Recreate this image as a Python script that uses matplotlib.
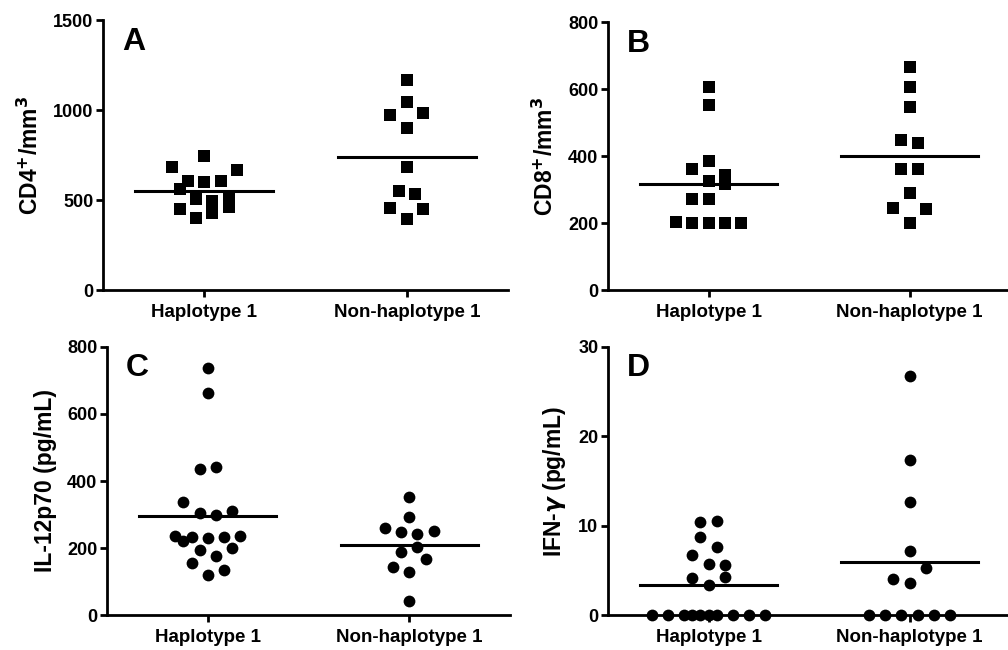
import numpy as np
import matplotlib
matplotlib.use("Agg")
import matplotlib.pyplot as plt

plt.rcParams['font.family'] = ['Liberation Sans', 'DejaVu Sans']
plt.rcParams['font.weight'] = 'bold'

groups = ["Haplotype 1", "Non-haplotype 1"]

# values, listed row by row, left to right
cd4_hap = [744, 681, 607, 600, 604, 669, 559, 504, 496, 504, 452, 398, 426, 459]
cd4_non = [1167, 1044, 970, 900, 981, 681, 548, 533, 456, 396, 452]
cd8_hap = [605, 553, 386, 360, 325, 344, 273, 273, 317, 203, 201, 199, 201, 201]
cd8_non = [665, 605, 547, 448, 440, 362, 362, 291, 245, 201, 243]
il12_hap = [738, 661, 437, 443, 337, 304, 300, 312, 236, 234, 230, 232, 236,
            220, 193, 177, 200, 157, 121, 135]
il12_non = [351, 294, 260, 248, 241, 250, 188, 202, 145, 129, 167, 44]
ifng_hap = [10.42, 10.5, 8.71, 7.63, 6.77, 5.73, 5.62, 4.17, 3.35, 4.24,
            0, 0, 0, 0, 0, 0, 0, 0, 0, 0]
ifng_non = [26.7, 17.3, 12.6, 7.2, 4.0, 3.6, 5.3, 0, 0, 0, 0, 0, 0]

panels = [
    ("A", r"CD4$^{+}$/mm$^{3}$", cd4_hap, cd4_non, 1500, [0, 500, 1000, 1500], "s"),
    ("B", r"CD8$^{+}$/mm$^{3}$", cd8_hap, cd8_non, 800, [0, 200, 400, 600, 800], "s"),
    ("C", "IL-12p70 (pg/mL)", il12_hap, il12_non, 800, [0, 200, 400, 600, 800], "o"),
    ("D", r"IFN-$\gamma$ (pg/mL)", ifng_hap, ifng_non, 30, [0, 10, 20, 30], "o"),
]

rects = [
    [0.1022, 0.5538, 0.4018, 0.4154],
    [0.6032, 0.5538, 0.3988, 0.4123],
    [0.1062, 0.0534, 0.3998, 0.4132],
    [0.6032, 0.0534, 0.3988, 0.4132],
]

SLOT = 0.0806      # horizontal step between neighbouring points (x units)
ROW_FRAC = 0.061   # points closer than this (fraction of y range) share a row
MAX_ROW = 8


def column_offsets(vals, ymax):
    """Prism-like column scatter: group close values into rows and centre them."""
    vals = np.asarray(vals, dtype=float)
    order = np.argsort(vals, kind="stable")
    thr = ROW_FRAC * ymax
    offs = np.zeros(len(vals))
    rows, cur = [], [order[0]]
    for i in order[1:]:
        if vals[i] - vals[cur[0]] < thr:
            cur.append(i)
        else:
            rows.append(cur)
            cur = [i]
    rows.append(cur)
    for row in rows:
        row = sorted(row)
        prev = None
        for k in range(0, len(row), MAX_ROW):
            chunk = row[k:k + MAX_ROW]
            pos = (np.arange(len(chunk)) - (len(chunk) - 1) / 2.0)
            if prev is not None and (len(chunk) % 2) == (prev % 2):
                pos = pos - 0.5
            offs[chunk] = pos * SLOT
            prev = len(chunk)
    return offs


fig = plt.figure(figsize=(10.08, 6.5), dpi=100)

for (letter, ylabel, hap, non, ymax, yticks, mk), rect in zip(panels, rects):
    ax = fig.add_axes(rect)
    for xi, vals in zip([1, 2], [hap, non]):
        xs = xi + column_offsets(vals, ymax)
        ax.scatter(xs, vals, marker=mk, s=64 if mk == "s" else 72,
                   color="black", linewidths=0, zorder=3, clip_on=False)
        m = np.mean(vals)
        ax.plot([xi - 0.34, xi + 0.34], [m, m], color="black", lw=2.2, zorder=4)

    ax.set_xlim(0.5, 2.5)
    ax.set_ylim(0, ymax)
    ax.set_yticks(yticks)
    ax.set_xticks([1, 2])
    ax.set_xticklabels(groups, fontsize=13.5, fontweight="bold")
    for lab in ax.get_yticklabels():
        lab.set_fontsize(13)
        lab.set_fontweight("bold")
    ax.set_ylabel(ylabel, fontsize=16.5, fontweight="bold", labelpad=7)
    for side in ["top", "right"]:
        ax.spines[side].set_visible(False)
    for side in ["left", "bottom"]:
        ax.spines[side].set_linewidth(2.0)
    ax.tick_params(axis="both", width=2.0, length=5, pad=2, colors="black")
    ax.tick_params(axis="x", pad=5)
    ax.text(0.047, 0.975, letter, transform=ax.transAxes, fontsize=23,
            fontweight="bold", va="top", ha="left")

fig.savefig("out.png", dpi=100)
